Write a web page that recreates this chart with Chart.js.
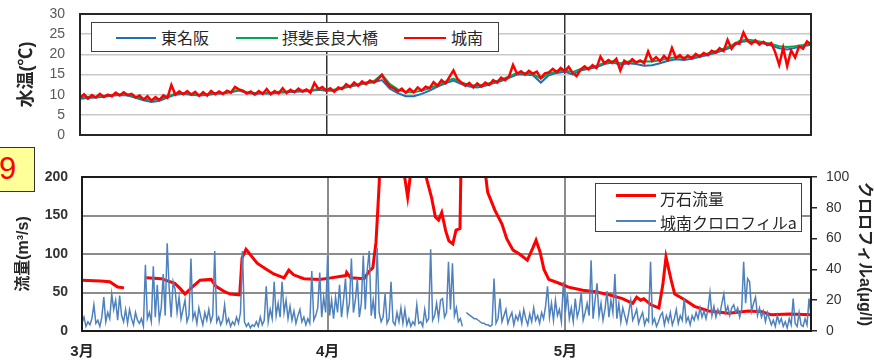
<!DOCTYPE html>
<html>
<head>
<meta charset="utf-8">
<script src="https://cdn.jsdelivr.net/npm/chart.js@4/dist/chart.umd.min.js"></script>
<style>
  html, body { margin: 0; padding: 0; background: #fff; }
  #wrap { position: relative; width: 874px; height: 360px; overflow: hidden; }
  canvas { position: absolute; left: 0; }
  #cTemp { top: 0; }
  #cFlow { top: 140px; }
  .legend { position: absolute; background: #fff; border: 1.5px solid #404040; box-sizing: border-box;
            font-family: "Noto Sans CJK JP", sans-serif; font-size: 16px; color: #262626; }
  .legend .sw { position: absolute; height: 0; }
  .legend .tx { position: absolute; white-space: nowrap; line-height: 16px; }
  #tag { position: absolute; left: -2px; top: 147px; width: 37px; height: 45px; background: #ffff99;
         border: 1.5px solid #333; box-sizing: border-box; color: #ff0000;
         font: 31px "Liberation Sans", Arial, sans-serif; line-height: 42px; padding-left: 0; }
</style>
</head>
<body>
<div id="wrap">
  <canvas id="cTemp" width="874" height="145"></canvas>
  <canvas id="cFlow" width="874" height="220"></canvas>

  <div class="legend" style="left:91px; top:22px; width:408px; height:30px;">
    <div class="sw" style="left:24px; top:14px; width:40px; border-top:2px solid #1f6fb5;"></div>
    <div class="tx" style="left:69px; top:6px;">東名阪</div>
    <div class="sw" style="left:144px; top:14px; width:42px; border-top:2px solid #00a651;"></div>
    <div class="tx" style="left:190px; top:6px;">摂斐長良大橋</div>
    <div class="sw" style="left:312px; top:14px; width:42px; border-top:2px solid #ff0000;"></div>
    <div class="tx" style="left:359px; top:6px;">城南</div>
  </div>

  <div class="legend" style="left:595px; top:183px; width:207px; height:49px;">
    <div class="sw" style="left:20px; top:10px; width:40px; border-top:3px solid #ff0000;"></div>
    <div class="tx" style="left:64px; top:6px;">万石流量</div>
    <div class="sw" style="left:20px; top:36px; width:40px; border-top:2px solid #4f81bd;"></div>
    <div class="tx" style="left:64px; top:30px;">城南クロロフィルa</div>
  </div>

  <div id="tag">9</div>
</div>

<script>
// Month boundaries on the day axis (day 0 = 1 March)
const monthStart  = [0, 31, 61];
const monthLabels = ['3月', '4月', '5月'];

// Water temperature (℃), 城南, every half day
const tempJonan = [
  9.2, 10.1, 9.0, 9.9, 9.3, 10.2, 9.4, 10.0, 9.6, 10.5,
  9.8, 10.6, 9.9, 10.2, 9.3, 9.8, 8.8, 9.6, 8.5, 9.4,
  8.7, 9.8, 9.2, 12.4, 10.0, 10.8, 10.1, 10.9, 10.0, 10.7,
  9.7, 10.6, 9.8, 10.9, 10.1, 10.8, 10.2, 11.0, 10.5, 11.9,
  11.3, 11.0, 10.3, 10.8, 10.0, 10.9, 10.2, 11.4, 10.1, 10.9,
  10.3, 11.6, 10.4, 11.2, 10.6, 11.5, 10.8, 11.3, 10.5, 12.9,
  11.4, 11.9, 11.0, 11.6, 10.7, 11.8, 11.4, 12.6, 11.9, 13.0,
  12.2, 13.3, 12.6, 13.5, 13.0, 13.8, 14.9, 13.2, 12.0, 11.6,
  10.8, 11.5, 10.5, 11.4, 10.6, 11.8, 11.0, 12.0, 11.6, 13.1,
  12.2, 13.6, 12.8, 14.4, 16.0, 13.9, 13.0, 12.2, 12.9, 11.8,
  12.8, 12.0, 13.0, 12.4, 13.6, 13.0, 14.2, 13.6, 14.5, 17.4,
  15.2, 15.8, 15.0, 15.9, 15.2, 15.7, 14.1, 15.3, 15.5, 16.4,
  15.6, 16.6, 15.8, 16.9, 15.4, 14.6, 16.2, 17.0, 16.3, 17.3,
  16.6, 19.4, 17.8, 18.6, 17.9, 18.9, 16.0, 18.4, 17.7, 18.8,
  18.0, 18.5, 17.8, 20.7, 18.4, 19.3, 18.3, 19.6, 18.6, 21.6,
  19.1, 19.8, 18.8, 19.7, 19.0, 20.1, 19.4, 20.3, 19.8, 20.9,
  20.4, 21.5, 20.8, 23.6, 21.4, 22.8, 22.6, 25.4, 23.4, 22.6,
  23.5, 22.4, 23.1, 22.3, 22.8, 20.5, 17.4, 21.6, 17.1, 21.0,
  19.2, 22.0, 21.4, 23.2, 22.4
];

// Water temperature (℃), 東名阪, daily
const tempTomeihan = [
  9.0, 9.2, 9.3, 9.5, 9.7, 9.9, 9.8, 9.2, 8.6, 8.2,
  8.5, 9.3, 10.0, 10.2, 10.0, 9.8, 9.9, 10.2, 10.3, 10.6,
  11.0, 10.4, 10.2, 10.3, 10.3, 10.5, 10.6, 10.7, 10.8, 10.9,
  11.2, 11.0, 11.0, 11.6, 12.0, 12.4, 12.8, 13.1, 13.6, 11.5,
  10.4, 9.6, 9.6, 10.2, 11.0, 12.0, 12.8, 13.5, 12.6, 12.0,
  11.8, 12.2, 12.8, 13.4, 14.2, 15.0, 15.0, 14.8, 13.0, 14.8,
  15.4, 15.7, 15.0, 16.0, 16.4, 16.8, 17.6, 18.0, 17.4, 17.8,
  17.6, 17.2, 17.3, 17.8, 18.4, 18.8, 18.6, 18.9, 19.4, 19.8,
  20.4, 21.0, 21.8, 23.0, 23.3, 23.0, 22.7, 22.2, 21.5, 21.2,
  21.6, 22.0, 22.4
];

// Water temperature (℃), 摂斐長良大橋, daily
const tempNagara = [
  9.3, 9.4, 9.5, 9.7, 9.9, 10.1, 10.0, 9.5, 9.0, 8.7,
  8.9, 9.6, 10.2, 10.4, 10.2, 10.0, 10.1, 10.4, 10.5, 10.8,
  11.2, 10.6, 10.4, 10.5, 10.5, 10.7, 10.8, 10.9, 11.0, 11.1,
  11.4, 11.2, 11.2, 11.8, 12.2, 12.6, 13.0, 13.4, 15.0, 12.6,
  11.3, 10.6, 10.6, 11.0, 11.6, 12.4, 13.2, 14.0, 13.0, 12.4,
  12.2, 12.6, 13.1, 13.7, 14.5, 15.4, 15.3, 15.1, 14.0, 15.2,
  15.8, 16.0, 15.6, 16.4, 16.7, 17.1, 17.9, 18.3, 17.8, 18.2,
  18.1, 18.3, 18.2, 18.5, 19.0, 19.3, 19.2, 19.4, 19.8, 20.2,
  20.8, 21.4, 22.2, 23.3, 23.7, 23.4, 23.0, 22.6, 22.0, 21.8,
  22.0, 22.3, 22.7
];

// 万石流量 (m³/s): day and discharge; null marks a missing stretch
const flowDay = [
  0, 2.3, 3.5, 4.5, 5.3, 5.6, 8.1, 10.0, 11.7, 12.4, 13.0, 13.9, 14.9, 16.3, 16.9, 18.0, 18.7, 19.9,
  20.2, 20.7, 22.1, 23.3, 24.2, 25.5, 26.1, 26.7, 28.0, 30.0, 31.4, 33.3, 33.4, 33.9, 35.6, 36.2,
  36.7, 37.1, 37.5, 37.7, 38.5, 40.0, 40.5, 41.1, 41.6, 42.5, 43.3, 44.1, 44.6, 45.0, 45.4, 45.9,
  46.3, 46.8, 47.2, 47.7, 47.9, 49.0, 50.6, 51.2, 52.1, 53.0, 53.6, 54.4, 55.2, 56.2, 56.9, 57.3,
  57.8, 58.3, 58.9, 60.2, 61.4, 63.2, 64.8, 66.5, 68.2, 69.5, 70.0, 70.5, 70.9, 71.8, 72.8, 73.3,
  73.7, 74.4, 74.8, 76.0, 77.3, 79.1, 81.6, 84.1, 85.8, 87.0, 89.3, 92.0
];
const flowRate = [
  66, 65, 64, 57, 56, null, 69, 68, 62, 55, 48, 57, 66, 67, 58, 51, 48, 47,
  95, 106, 88, 80, 74, 69, 79, 73, 68, 67, 69, 72, 76, 69, 68, 77,
  82, 115, 190, 250, 300, 280, 215, 174, 215, 270, 205, 174, 148, 144, 154, 130,
  117, 113, 131, 133, 260, 300, 230, 180, 157, 139, 120, 105, 100, 92, 108, 118,
  103, 80, 67, 62, 57, 53, 51, 47, 42, 36, 44, 40, 42, 34, 30, 60,
  96, 64, 48, 41, 32, 26, 23, 26, 25, 21, 22, 21
];

// 城南クロロフィルa (μg/l), every quarter day
const chlStep = 0.25;
const chlJonan = [
  5, 9, 3, 6, 4, 8, 17, 5, 7, 3,
  9, 22, 6, 12, 8, 24, 14, 20, 7, 23,
  10, 6, 14, 5, 14, 8, 4, 12, 7, 5,
  8, 3, 43, 8, 12, 6, 42, 9, 30, 7,
  15, 37, 10, 57, 28, 9, 32, 27, 12, 22,
  8, 14, 20, 6, 10, 47, 8, 12, 5, 15,
  9, 4, 12, 7, 14, 6, 10, 52, 6, 9,
  4, 7, 17, 5, 8, 3, 6, 4, 9, 5,
  12, 52, 6, 3, 5, 2, 4, 3, 6, 3,
  9, 4, 7, 29, 6, 14, 8, 32, 10, 18,
  9, 32, 12, 20, 8, 16, 7, 13, 5, 10,
  14, 6, 9, 4, 8, 5, 39, 7, 10, 15,
  38, 9, 22, 12, 49, 10, 20, 8, 22, 12,
  30, 9, 20, 34, 11, 18, 47, 12, 20, 34,
  9, 18, 49, 14, 40, 52, 10, 20, 8, 54,
  12, 6, 9, 24, 5, 8, 32, 6, 4, 12,
  6, 15, 5, 14, 4, 8, 3, 6, 4, 17,
  5, 6, 3, 14, 6, 8, 53, 7, 10, 18,
  8, 20, 21, 9, 12, 45, 14, 44, 10, 15,
  6, 8, 3, null, 12, 11, 10, 9, 8, 8,
  7, 6, 5, 5, 4, 4, 3, 4, 34, 5,
  8, 21, 6, 10, 14, 5, 9, 12, 4, 10,
  7, 12, 5, 14, 8, 4, 11, 6, 15, 7,
  10, 5, 12, 8, 16, 29, 9, 18, 7, 20,
  10, 14, 6, 32, 12, 24, 8, 15, 6, 21,
  9, 14, 25, 7, 12, 18, 10, 46, 8, 20,
  31, 10, 18, 7, 14, 26, 9, 20, 12, 37,
  8, 18, 6, 15, 10, 5, 12, 20, 7, 10,
  14, 5, 9, 12, 4, 8, 6, 45, 5, 8,
  3, 6, 10, 12, 4, 10, 6, 12, 4, 8,
  14, 5, 10, 7, 21, 6, 9, 4, 10, 7,
  12, 8, 15, 9, 13, 8, 14, 25, 10, 16,
  9, 14, 11, 18, 24, 12, 16, 10, 15, 17,
  12, 15, 9, 14, 45, 18, 34, 32, 13, 18,
  22, 10, 15, 9, 13, 6, 12, 8, 4, 7,
  3, 10, 5, 8, 3, 6, 2, 8, 4, 21,
  5, 3, 12, 4, 3, 8, 4, 21, 10
];

// Axis tick values
const tempTicks = [0, 5, 10, 15, 20, 25, 30];
const flowTicks = [0, 50, 100, 150, 200];
const chlTicks  = [0, 20, 40, 60, 80, 100];

const toPts = (vals, step) => vals.map((v, i) => ({ x: i * step, y: v }));
const pairPts = (xs, ys) => xs.map((x, i) => ({ x: x, y: ys[i] }));
const setTicks = list => scale => { scale.ticks = list.map(v => ({ value: v })); };
// Fix an axis width and keep its label overhang from shrinking the plot
const fixWidth = w => s => { s.width = w; s.paddingTop = 0; s.paddingBottom = 0; };

const LATIN = '"Liberation Sans", Arial, sans-serif';
const MIXED = '"Liberation Sans", "Noto Sans CJK JP", sans-serif';

// Plot frame drawn over the data
const framePlugin = {
  id: 'frame',
  afterDatasetsDraw(chart, args, opts) {
    const { ctx, chartArea: a } = chart;
    ctx.save();
    ctx.strokeStyle = opts.color;
    ctx.lineWidth = opts.width;
    ctx.strokeRect(a.left, a.top, a.right - a.left, a.bottom - a.top);
    ctx.restore();
  }
};

const monthGrid = color => ctx => (ctx.tick && ctx.tick.value > 0 ? color : 'rgba(0,0,0,0)');

// Upper panel: water temperature
new Chart(document.getElementById('cTemp'), {
  type: 'line',
  data: {
    datasets: [
      { label: '城南', data: toPts(tempJonan, 0.5), borderColor: '#ff0000', borderWidth: 2.5, order: 1 },
      { label: '摂斐長良大橋', data: toPts(tempNagara, 1), borderColor: '#00a651', borderWidth: 2, order: 2 },
      { label: '東名阪', data: toPts(tempTomeihan, 1), borderColor: '#1f6fb5', borderWidth: 2, order: 3 }
    ]
  },
  options: {
    responsive: false,
    animation: false,
    layout: { autoPadding: false, padding: { top: 14, right: 63, bottom: 10, left: 0 } },
    elements: { point: { radius: 0 }, line: { tension: 0 } },
    datasets: { line: { clip: 0 } },
    plugins: { legend: { display: false }, tooltip: { enabled: false }, frame: { color: '#262626', width: 2 } },
    scales: {
      x: {
        type: 'linear', min: 0, max: 92,
        afterBuildTicks: setTicks(monthStart),
        ticks: { display: false },
        grid: { drawTicks: false, color: monthGrid('#333333'), lineWidth: 1.5 },
        border: { display: false },
        afterFit: s => { s.height = 0; }
      },
      y: {
        min: 0, max: 30,
        afterBuildTicks: setTicks(tempTicks),
        ticks: { padding: 15, color: '#595959', font: { family: LATIN, size: 14 } },
        grid: { drawTicks: false, color: '#c8c8c8', lineWidth: 1.5 },
        border: { display: false },
        title: { display: true, text: '水温(℃)', color: '#262626',
                 font: { family: MIXED, size: 18, weight: 'bold' }, padding: { top: 16, bottom: 0 } },
        afterFit: fixWidth(80)
      }
    }
  },
  plugins: [framePlugin]
});

// Lower panel: discharge and chlorophyll
new Chart(document.getElementById('cFlow'), {
  type: 'line',
  data: {
    datasets: [
      { label: '城南クロロフィルa', data: toPts(chlJonan, chlStep), yAxisID: 'y2',
        borderColor: '#4f81bd', borderWidth: 1.5, order: 1 },
      { label: '万石流量', data: pairPts(flowDay, flowRate), yAxisID: 'y',
        borderColor: '#ff0000', borderWidth: 3, order: 2 }
    ]
  },
  options: {
    responsive: false,
    animation: false,
    layout: { autoPadding: false, padding: { top: 37, right: 0, bottom: 0, left: 0 } },
    elements: { point: { radius: 0 }, line: { tension: 0 } },
    datasets: { line: { clip: 0 } },
    plugins: { legend: { display: false }, tooltip: { enabled: false }, frame: { color: '#1a1a1a', width: 2 } },
    scales: {
      x: {
        type: 'linear', min: 0, max: 92,
        afterBuildTicks: setTicks(monthStart),
        ticks: { padding: 12, color: '#262626', maxRotation: 0, autoSkip: false,
                 font: { family: MIXED, size: 15, weight: 'bold' },
                 callback: (v, i) => monthLabels[i] },
        grid: { drawTicks: false, color: monthGrid('#8c8c8c'), lineWidth: 2 },
        border: { display: false },
        afterFit: s => { s.height = 29; s.paddingLeft = 0; s.paddingRight = 0; }
      },
      y: {
        position: 'left', min: 0, max: 200,
        afterBuildTicks: setTicks(flowTicks),
        ticks: { padding: 14, color: '#333333', font: { family: LATIN, size: 14, weight: 'bold' } },
        grid: { drawTicks: false, color: '#8c8c8c', lineWidth: 2 },
        border: { display: false },
        title: { display: true, text: '流量(m³/s)', color: '#262626',
                 font: { family: MIXED, size: 16, weight: 'bold' }, padding: { top: 14, bottom: 0 } },
        afterFit: fixWidth(82)
      },
      y2: {
        position: 'right', min: 0, max: 100,
        afterBuildTicks: setTicks(chlTicks),
        ticks: { padding: 9, color: '#333333', font: { family: LATIN, size: 14 } },
        grid: { drawOnChartArea: false, drawTicks: true, tickLength: 6, color: '#262626', lineWidth: 1.5 },
        border: { display: false },
        title: { display: true, text: 'クロロフィルa(μg/l)', color: '#262626',
                 font: { family: MIXED, size: 16, weight: 'bold' }, padding: { top: 0, bottom: 0 } },
        afterFit: fixWidth(63)
      }
    }
  },
  plugins: [framePlugin]
});
</script>
</body>
</html>
